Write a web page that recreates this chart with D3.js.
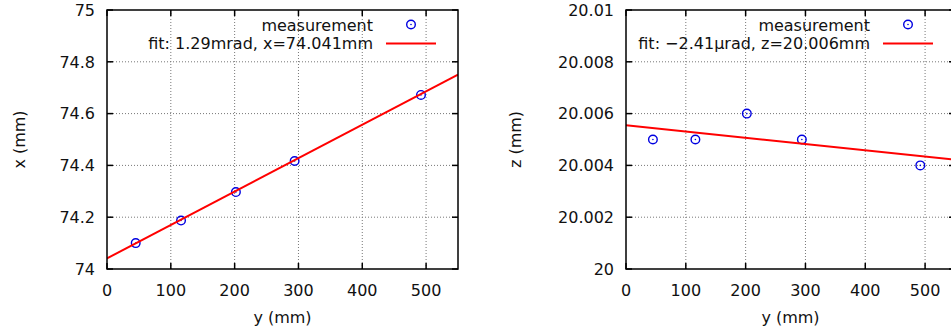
<!DOCTYPE html>
<html>
<head>
<meta charset="utf-8">
<script src="https://cdn.jsdelivr.net/npm/d3@7"></script>
<style>
  body { margin: 0; background: #fff; }
  svg { display: block; font-family: "DejaVu Sans", sans-serif; }
</style>
</head>
<body>
<svg id="chart"></svg>
<script>
// positions along the beam (mm)
const yPos = [45, 116, 202, 294, 492];
// measured x and z (mm)
const xMeas = [74.10, 74.187, 74.297, 74.417, 74.672];
const zMeas = [20.005, 20.005, 20.006, 20.005, 20.004];
// linear fits: value = intercept + slope * y
const xFit = { intercept: 74.041, slope: 0.00129 };
const zFit = { intercept: 20.00555, slope: -0.00000241 };
const xTicks = [0, 100, 200, 300, 400, 500];
const xTicksLeft = [74, 74.2, 74.4, 74.6, 74.8, 75];
const zTicksRight = [20, 20.002, 20.004, 20.006, 20.008, 20.01];
const xLabelsLeft = ["74", "74.2", "74.4", "74.6", "74.8", "75"];
const zLabelsRight = ["20", "20.002", "20.004", "20.006", "20.008", "20.01"];

const W = 951, H = 333;
const svg = d3.select("#chart").attr("width", W).attr("height", H);

const drawPanel = (opts) => {
  const { left, right, top, bottom, yDomain, yTicks, yLabels, values, fit, yTitle, yTitleX, fitLabel, id } = opts;

  const x = d3.scaleLinear().domain([0, 550]).range([left, right]);
  const y = d3.scaleLinear().domain(yDomain).range([bottom, top]);

  const g = svg.append("g");

  g.append("clipPath").attr("id", id)
    .append("rect")
    .attr("x", left).attr("y", top)
    .attr("width", right - left).attr("height", bottom - top);

  // grid
  g.selectAll(".gx").data(xTicks.slice(1)).join("line")
    .attr("x1", d => x(d)).attr("x2", d => x(d))
    .attr("y1", top).attr("y2", bottom)
    .attr("stroke", "#777").attr("stroke-width", 1)
    .attr("stroke-dasharray", "1,2");
  g.selectAll(".gy").data(yTicks.slice(1, -1)).join("line")
    .attr("x1", left).attr("x2", right)
    .attr("y1", d => y(d)).attr("y2", d => y(d))
    .attr("stroke", "#777").attr("stroke-width", 1)
    .attr("stroke-dasharray", "1,2");

  // inward ticks on all sides
  xTicks.forEach(t => {
    g.append("line").attr("x1", x(t)).attr("x2", x(t)).attr("y1", bottom).attr("y2", bottom - 6)
      .attr("stroke", "#000").attr("stroke-width", 1.5);
    g.append("line").attr("x1", x(t)).attr("x2", x(t)).attr("y1", top).attr("y2", top + 6)
      .attr("stroke", "#000").attr("stroke-width", 1.5);
  });
  yTicks.forEach(t => {
    g.append("line").attr("x1", left).attr("x2", left + 6).attr("y1", y(t)).attr("y2", y(t))
      .attr("stroke", "#000").attr("stroke-width", 1.5);
    g.append("line").attr("x1", right).attr("x2", right - 6).attr("y1", y(t)).attr("y2", y(t))
      .attr("stroke", "#000").attr("stroke-width", 1.5);
  });

  // tick labels
  g.selectAll(".xl").data(xTicks).join("text")
    .attr("x", d => x(d)).attr("y", bottom + 27)
    .attr("text-anchor", "middle").attr("font-size", "16px").attr("fill", "#111")
    .text(d => d);
  g.selectAll(".yl").data(yTicks).join("text")
    .attr("x", left - 12).attr("y", d => y(d)).attr("dy", "0.36em")
    .attr("text-anchor", "end").attr("font-size", "16px").attr("fill", "#111")
    .text((d, i) => yLabels[i]);

  // axis titles
  g.append("text")
    .attr("x", (left + right) / 2).attr("y", bottom + 54)
    .attr("text-anchor", "middle").attr("font-size", "16px").attr("fill", "#111")
    .text("y (mm)");
  g.append("text")
    .attr("transform", `translate(${yTitleX},${(top + bottom) / 2}) rotate(-90)`)
    .attr("text-anchor", "middle").attr("font-size", "16px").attr("fill", "#111")
    .text(yTitle);

  // measurement points
  const pts = g.append("g");
  yPos.forEach((p, i) => {
    pts.append("circle").attr("cx", x(p)).attr("cy", y(values[i])).attr("r", 4.3)
      .attr("fill", "none").attr("stroke", "#0000e0").attr("stroke-width", 1.4);
    pts.append("circle").attr("cx", x(p)).attr("cy", y(values[i])).attr("r", 0.8)
      .attr("fill", "#0000e0");
  });

  // fit line
  const line = d3.line().x(d => x(d)).y(d => y(fit.intercept + fit.slope * d));
  g.append("path")
    .attr("d", line([0, 550]))
    .attr("clip-path", `url(#${id})`)
    .attr("fill", "none").attr("stroke", "#ff0000").attr("stroke-width", 2);

  // frame
  g.append("rect")
    .attr("x", left).attr("y", top)
    .attr("width", right - left).attr("height", bottom - top)
    .attr("fill", "none").attr("stroke", "#000").attr("stroke-width", 1.5);

  // legend
  const textRight = right - 85;
  g.append("text").attr("x", textRight).attr("y", 25).attr("dy", "0.36em")
    .attr("text-anchor", "end").attr("font-size", "16px").attr("fill", "#111")
    .text("measurement");
  g.append("circle").attr("cx", right - 47).attr("cy", 24.5).attr("r", 4.3)
    .attr("fill", "none").attr("stroke", "#0000e0").attr("stroke-width", 1.4);
  g.append("circle").attr("cx", right - 47).attr("cy", 24.5).attr("r", 0.8)
    .attr("fill", "#0000e0");
  g.append("text").attr("x", textRight).attr("y", 43.5).attr("dy", "0.36em")
    .attr("text-anchor", "end").attr("font-size", "16px").attr("fill", "#111")
    .text(fitLabel);
  g.append("line").attr("x1", right - 72).attr("x2", right - 22)
    .attr("y1", 43.5).attr("y2", 43.5)
    .attr("stroke", "#ff0000").attr("stroke-width", 2);
};

drawPanel({
  id: "clipL", left: 107, right: 458, top: 10, bottom: 269,
  yDomain: [74, 75], yTicks: xTicksLeft, yLabels: xLabelsLeft,
  values: xMeas, fit: xFit, yTitle: "x (mm)", yTitleX: 25,
  fitLabel: "fit: 1.29mrad, x=74.041mm"
});

drawPanel({
  id: "clipR", left: 626, right: 955, top: 10, bottom: 269,
  yDomain: [20, 20.01], yTicks: zTicksRight, yLabels: zLabelsRight,
  values: zMeas, fit: zFit, yTitle: "z (mm)", yTitleX: 521,
  fitLabel: "fit: \u22122.41\u00b5rad, z=20.006mm"
});
</script>
</body>
</html>
